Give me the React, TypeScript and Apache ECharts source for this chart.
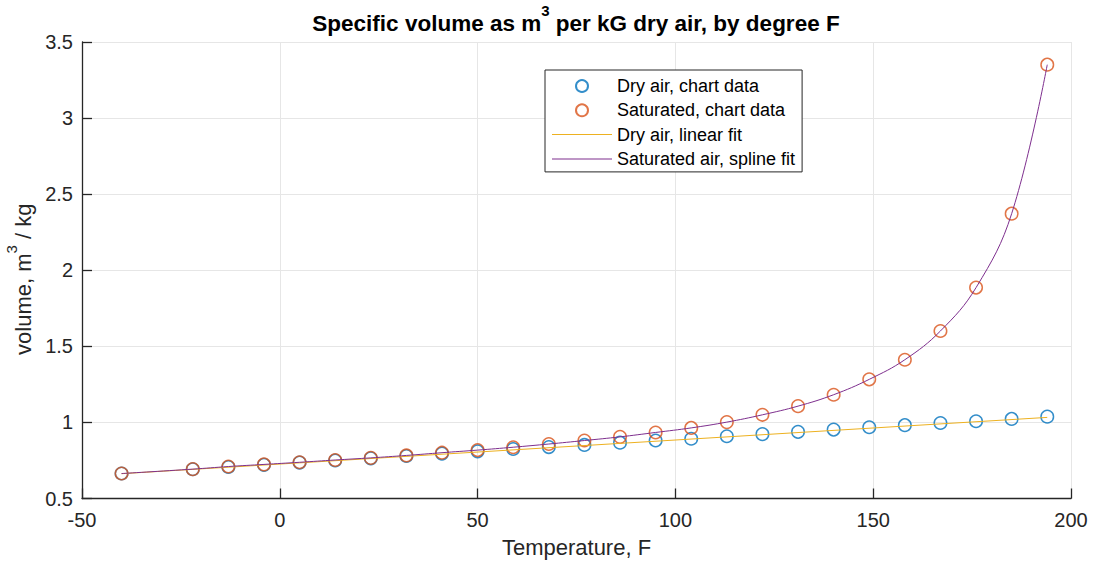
import React, { useEffect, useRef } from 'react';
import * as echarts from 'echarts';

// Temperatures (°F) of the tabulated points
const tempF = [-40, -22, -13, -4, 5, 14, 23, 32, 41, 50, 59, 68, 77, 86, 95, 104, 113, 122, 131, 140, 149, 158, 167, 176, 185, 194];

// Specific volume of dry air, m³/kg
const dryVolume = [0.664, 0.692, 0.707, 0.721, 0.736, 0.75, 0.764, 0.779, 0.795, 0.81, 0.825, 0.838, 0.852, 0.867, 0.881, 0.893, 0.909, 0.923, 0.938, 0.953, 0.968, 0.982, 0.996, 1.008, 1.023, 1.038];

// Specific volume of saturated air, m³/kg
const saturatedVolume = [0.664, 0.693, 0.71, 0.724, 0.738, 0.753, 0.767, 0.783, 0.801, 0.818, 0.837, 0.858, 0.881, 0.905, 0.934, 0.964, 1.002, 1.05, 1.107, 1.182, 1.283, 1.412, 1.601, 1.886, 2.372, 3.351];

// Linear fit of the dry-air points, end points
const dryFitTemp = [-40, 194];
const dryFitVolume = [0.663, 1.033];

const seriesNames = ['Dry air, chart data', 'Saturated, chart data', 'Dry air, linear fit', 'Saturated air, spline fit'];

const FONT = '"Liberation Sans", Arial, Helvetica, sans-serif';
const INK = '#262626';
const BLUE = '#0072BD';
const ORANGE = '#D95319';
const YELLOW = '#EDB120';
const PURPLE = '#7E2F8E';

// thin bar used as the legend swatch of the fitted lines
const LINE_ICON = 'path://M0,0 H60 V1 H0 Z';

const pairs = (xs: number[], ys: number[]) => xs.map((x, i) => [x, ys[i]]);

export default function App() {
  const ref = useRef<HTMLDivElement>(null);

  useEffect(() => {
    if (!ref.current) return;
    const chart = echarts.init(ref.current, undefined, { renderer: 'svg' });

    const axisCommon = {
      type: 'value' as const,
      nameLocation: 'middle' as const,
      axisLine: { onZero: false, lineStyle: { color: INK, width: 1.3 } },
      axisTick: { inside: true, length: 10, lineStyle: { color: INK, width: 1.3 } },
      axisLabel: { fontSize: 20, color: INK, fontFamily: FONT },
      splitLine: { show: true, lineStyle: { color: '#e6e6e6', width: 1 } },
    };

    chart.setOption({
      animation: false,
      backgroundColor: '#ffffff',
      textStyle: { fontFamily: FONT },
      grid: { left: 82, right: 23, top: 42, bottom: 65.5, containLabel: false, outerBoundsMode: 'none' },
      graphic: [
        {
          type: 'text',
          x: 576,
          y: 2.5,
          style: {
            text: '{b|Specific volume as m}{sup|3}{b| per kG dry air, by degree F}',
            align: 'center',
            fill: '#000',
            rich: {
              b: { fontSize: 22.5, fontWeight: 'bold', fontFamily: FONT, fill: '#000' },
              sup: { fontSize: 15, fontWeight: 'bold', fontFamily: FONT, fill: '#000', padding: [0, 0, 26, 0] },
            },
          },
        },
      ],
      xAxis: {
        ...axisCommon,
        min: -50,
        max: 200,
        interval: 50,
        name: 'Temperature, F',
        nameGap: 38,
        nameTextStyle: { fontSize: 22, color: INK, fontFamily: FONT },
        axisLabel: { ...axisCommon.axisLabel, margin: 11 },
      },
      yAxis: {
        ...axisCommon,
        min: 0.5,
        max: 3.5,
        interval: 0.5,
        name: '{a|volume, m}{s|3}{e| / kg}',
        nameGap: 35,
        nameTextStyle: {
          color: INK,
          rich: {
            a: { fontSize: 22, color: INK, fontFamily: FONT },
            s: { fontSize: 15, color: INK, fontFamily: FONT, padding: [0, 0, 24, 0] },
            e: { fontSize: 22, color: INK, fontFamily: FONT, padding: [0, 18, 0, 0] },
          },
        },
        axisLabel: { ...axisCommon.axisLabel, margin: 9 },
      },
      legend: {
        orient: 'vertical',
        left: 545,
        top: 70,
        padding: [7, 7, 4, 7],
        itemWidth: 60,
        itemHeight: 12,
        itemGap: 6.3,
        borderColor: INK,
        borderWidth: 1,
        borderRadius: 0,
        backgroundColor: '#ffffff',
        selectedMode: false,
        textStyle: { fontSize: 18, color: '#000', fontFamily: FONT },
        data: [
          { name: seriesNames[0] },
          { name: seriesNames[1] },
          { name: seriesNames[2], icon: LINE_ICON },
          { name: seriesNames[3], icon: LINE_ICON },
        ],
      },
      series: [
        {
          name: seriesNames[0],
          type: 'scatter',
          data: pairs(tempF, dryVolume),
          symbol: 'circle',
          symbolSize: 12.5,
          itemStyle: { color: 'rgba(255,255,255,0)', borderColor: BLUE, borderWidth: 1.5 },
        },
        {
          name: seriesNames[1],
          type: 'scatter',
          data: pairs(tempF, saturatedVolume),
          symbol: 'circle',
          symbolSize: 12.5,
          itemStyle: { color: 'rgba(255,255,255,0)', borderColor: ORANGE, borderWidth: 1.5 },
        },
        {
          name: seriesNames[2],
          type: 'line',
          data: pairs(dryFitTemp, dryFitVolume),
          symbol: 'none',
          itemStyle: { color: YELLOW },
          lineStyle: { color: YELLOW, width: 1 },
        },
        {
          name: seriesNames[3],
          type: 'line',
          data: pairs(tempF, saturatedVolume),
          smooth: 0.4,
          symbol: 'none',
          itemStyle: { color: PURPLE },
          lineStyle: { color: PURPLE, width: 1 },
        },
      ],
    });

    return () => chart.dispose();
  }, []);

  return (
    <div
      ref={ref}
      style={{ position: 'fixed', left: 0, top: 0, width: 1094, height: 564, background: '#fff' }}
    />
  );
}
